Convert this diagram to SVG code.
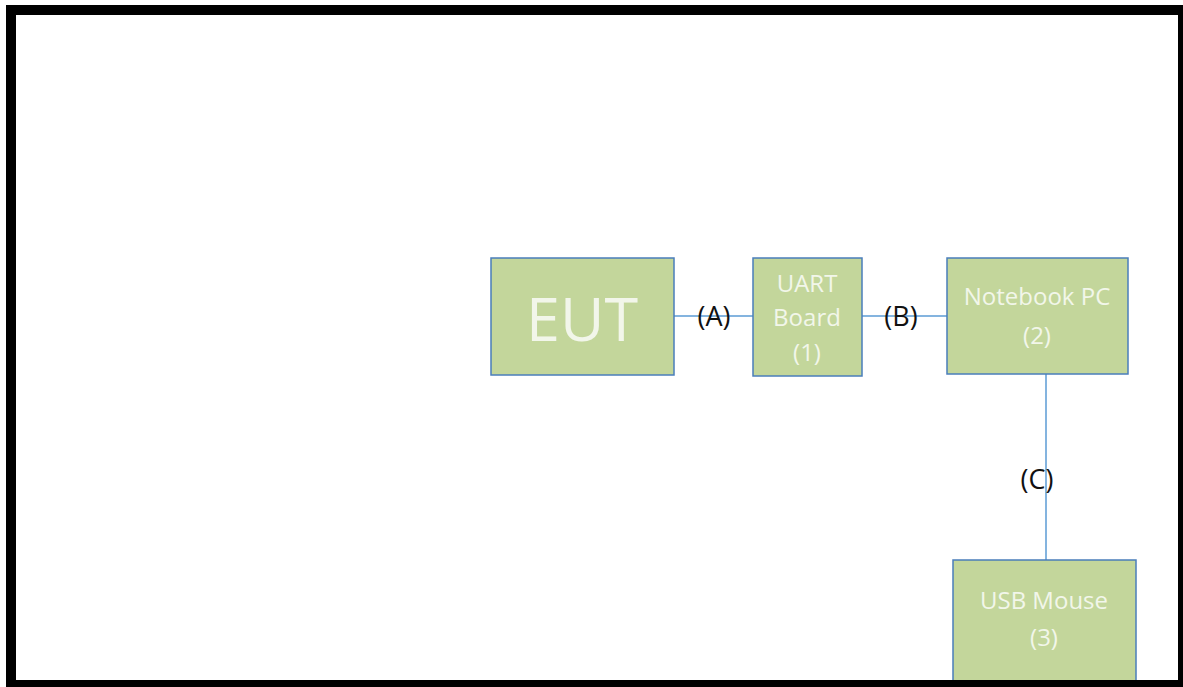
<svg xmlns="http://www.w3.org/2000/svg" width="1183" height="687" viewBox="0 0 1183 687">
<style>
.box{fill:#c3d69b;stroke:#4a7ebb;stroke-width:1.5}
.t{font-family:"Open Sans","Liberation Sans",sans-serif;fill:#f2f6ea;text-anchor:middle;font-size:24px}
.lbl{font-family:"Open Sans","Liberation Sans",sans-serif;fill:#111;text-anchor:middle;font-size:27px}
.c{stroke:#5b9bd5;stroke-width:1.5;fill:none}
</style>
<rect x="0" y="0" width="1183" height="687" fill="#fff"/>
<rect x="11" y="10" width="1172" height="675" fill="none" stroke="#000" stroke-width="10"/>
<g id="connectors">
<line class="c" x1="674" y1="316" x2="753" y2="316"/>
<line class="c" x1="862" y1="316" x2="947" y2="316"/>
<line class="c" x1="1046" y1="374" x2="1046" y2="560"/>
<text class="lbl" x="714" y="326">(A)</text>
<text class="lbl" x="901" y="326">(B)</text>
<text class="lbl" x="1037" y="489">(C)</text>
</g>
<g id="eut">
<rect class="box" x="491" y="258" width="183" height="117"/>
<text class="t" x="582" y="341" style="font-size:61px">EUT</text>
</g>
<g id="uart">
<rect class="box" x="753" y="258" width="109" height="118"/>
<text class="t" x="807" y="292">UART</text>
<text class="t" x="807" y="326">Board</text>
<text class="t" x="807" y="361">(1)</text>
</g>
<g id="notebook">
<rect class="box" x="947" y="258" width="181" height="116"/>
<text class="t" x="1037" y="305">Notebook PC</text>
<text class="t" x="1037" y="344">(2)</text>
</g>
<g id="mouse">
<rect class="box" x="953" y="560" width="183" height="122"/>
<text class="t" x="1044" y="609">USB Mouse</text>
<text class="t" x="1044" y="646">(3)</text>
</g>
<rect x="6" y="680" width="1177" height="7" fill="#000"/>
</svg>
